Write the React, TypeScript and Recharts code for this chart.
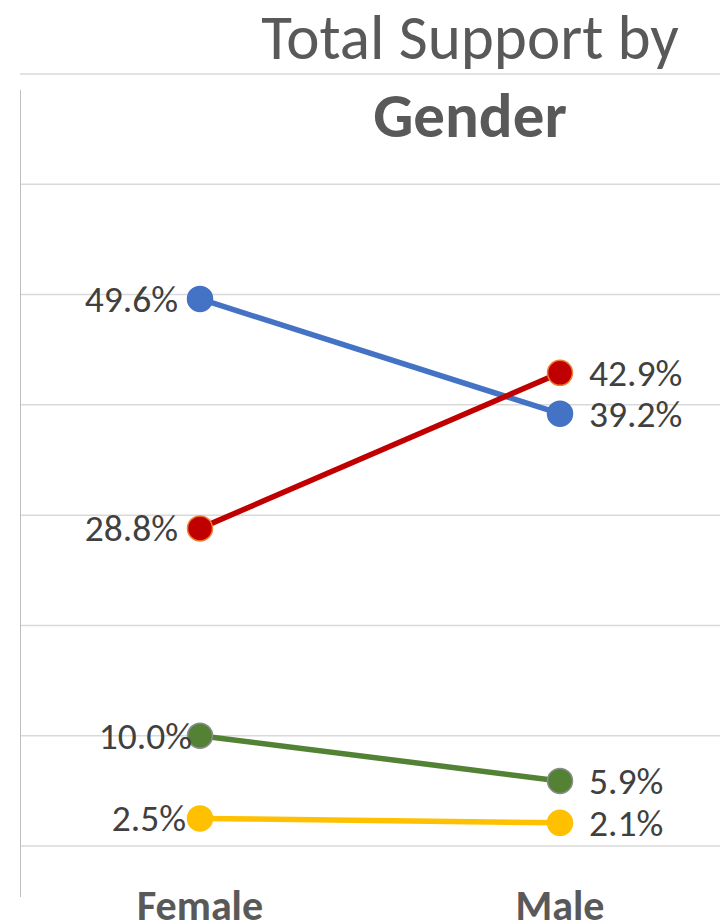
import React from "react";
import { LineChart, Line, XAxis, YAxis, CartesianGrid, LabelList } from "recharts";

const categories = ["Female", "Male"];
const blueValues = [49.6, 39.2];
const redValues = [28.8, 42.9];
const greenValues = [10.0, 5.9];
const yellowValues = [2.5, 2.1];
const yTicks = [0, 10, 20, 30, 40, 50, 60, 70];
const titleLine1 = "Total Support by";
const titleLine2 = "Gender";

const data = categories.map((c, i) => ({
  gender: c,
  blue: blueValues[i],
  red: redValues[i],
  green: greenValues[i],
  yellow: yellowValues[i],
}));

const FONT = "Carlito, Lato, 'Open Sans', sans-serif";

const makeDot = (fill: string, stroke: string) => (props: any) => {
  const { cx, cy, index } = props;
  if (cx == null || cy == null) return <g key={index} />;
  return <circle key={index} cx={cx} cy={cy} r={12.5} fill={fill} stroke={stroke} strokeWidth={1.5} />;
};

const makeLabel = (leftOffset: number) => (props: any) => {
  const x = props.x ?? props.viewBox?.x;
  const y = props.y ?? props.viewBox?.y;
  const { value, index } = props;
  const left = index === 0;
  return (
    <text
      key={index}
      x={left ? x - leftOffset : x + 29}
      y={y}
      dy={13}
      textAnchor={left ? "end" : "start"}
      fontFamily={FONT}
      fontSize={37.5}
      fill="#404040"
    >
      {Number(value).toFixed(1)}%
    </text>
  );
};

const XTick = (props: any) => {
  const { x, y, payload } = props;
  return (
    <text x={x} y={y + 66} textAnchor="middle" fontFamily={FONT} fontWeight="bold" fontSize={42} fill="#595959">
      {payload.value}
    </text>
  );
};

export default function App() {
  return (
    <div style={{ position: "absolute", left: 0, top: 0, width: 720, height: 920, overflow: "hidden", background: "#fff" }}>
      <LineChart width={740} height={920} data={data} margin={{ top: 74, right: 0, bottom: 0, left: 20 }}>
        <CartesianGrid vertical={false} stroke="#d9d9d9" strokeWidth={1.5} />
        <XAxis dataKey="gender" axisLine={false} tickLine={false} height={74} tick={<XTick />} interval={0} padding={{ left: 180, right: 180 }} />
        <YAxis hide width={0} domain={[0, 70]} ticks={yTicks} />
        <Line dataKey="blue" stroke="#4472C4" strokeWidth={5.5} isAnimationActive={false} dot={makeDot("#4472C4", "#4472C4")} activeDot={false}>
          <LabelList dataKey="blue" content={makeLabel(22)} />
        </Line>
        <Line dataKey="red" stroke="#C00000" strokeWidth={5.5} isAnimationActive={false} dot={makeDot("#C00000", "#ED7D31")} activeDot={false}>
          <LabelList dataKey="red" content={makeLabel(22)} />
        </Line>
        <Line dataKey="green" stroke="#548235" strokeWidth={5.5} isAnimationActive={false} dot={makeDot("#548235", "#8c8c8c")} activeDot={false}>
          <LabelList dataKey="green" content={makeLabel(8)} />
        </Line>
        <Line dataKey="yellow" stroke="#FFC000" strokeWidth={5.5} isAnimationActive={false} dot={makeDot("#FFC000", "#FFC000")} activeDot={false}>
          <LabelList dataKey="yellow" content={makeLabel(14)} />
        </Line>
      </LineChart>
      <div style={{ position: "absolute", left: 170, width: 600, top: 0, textAlign: "center", fontFamily: FONT, fontSize: 63, color: "#595959", lineHeight: "76px", whiteSpace: "nowrap" }}>
        {titleLine1}
      </div>
      <div style={{ position: "absolute", left: 170, width: 600, top: 78, textAlign: "center", fontFamily: FONT, fontSize: 63, fontWeight: "bold", color: "#595959", lineHeight: "76px", whiteSpace: "nowrap" }}>
        {titleLine2}
      </div>
      <div style={{ position: "absolute", left: 20, top: 90, width: 1, height: 807, background: "#bfbfbf" }} />
    </div>
  );
}
